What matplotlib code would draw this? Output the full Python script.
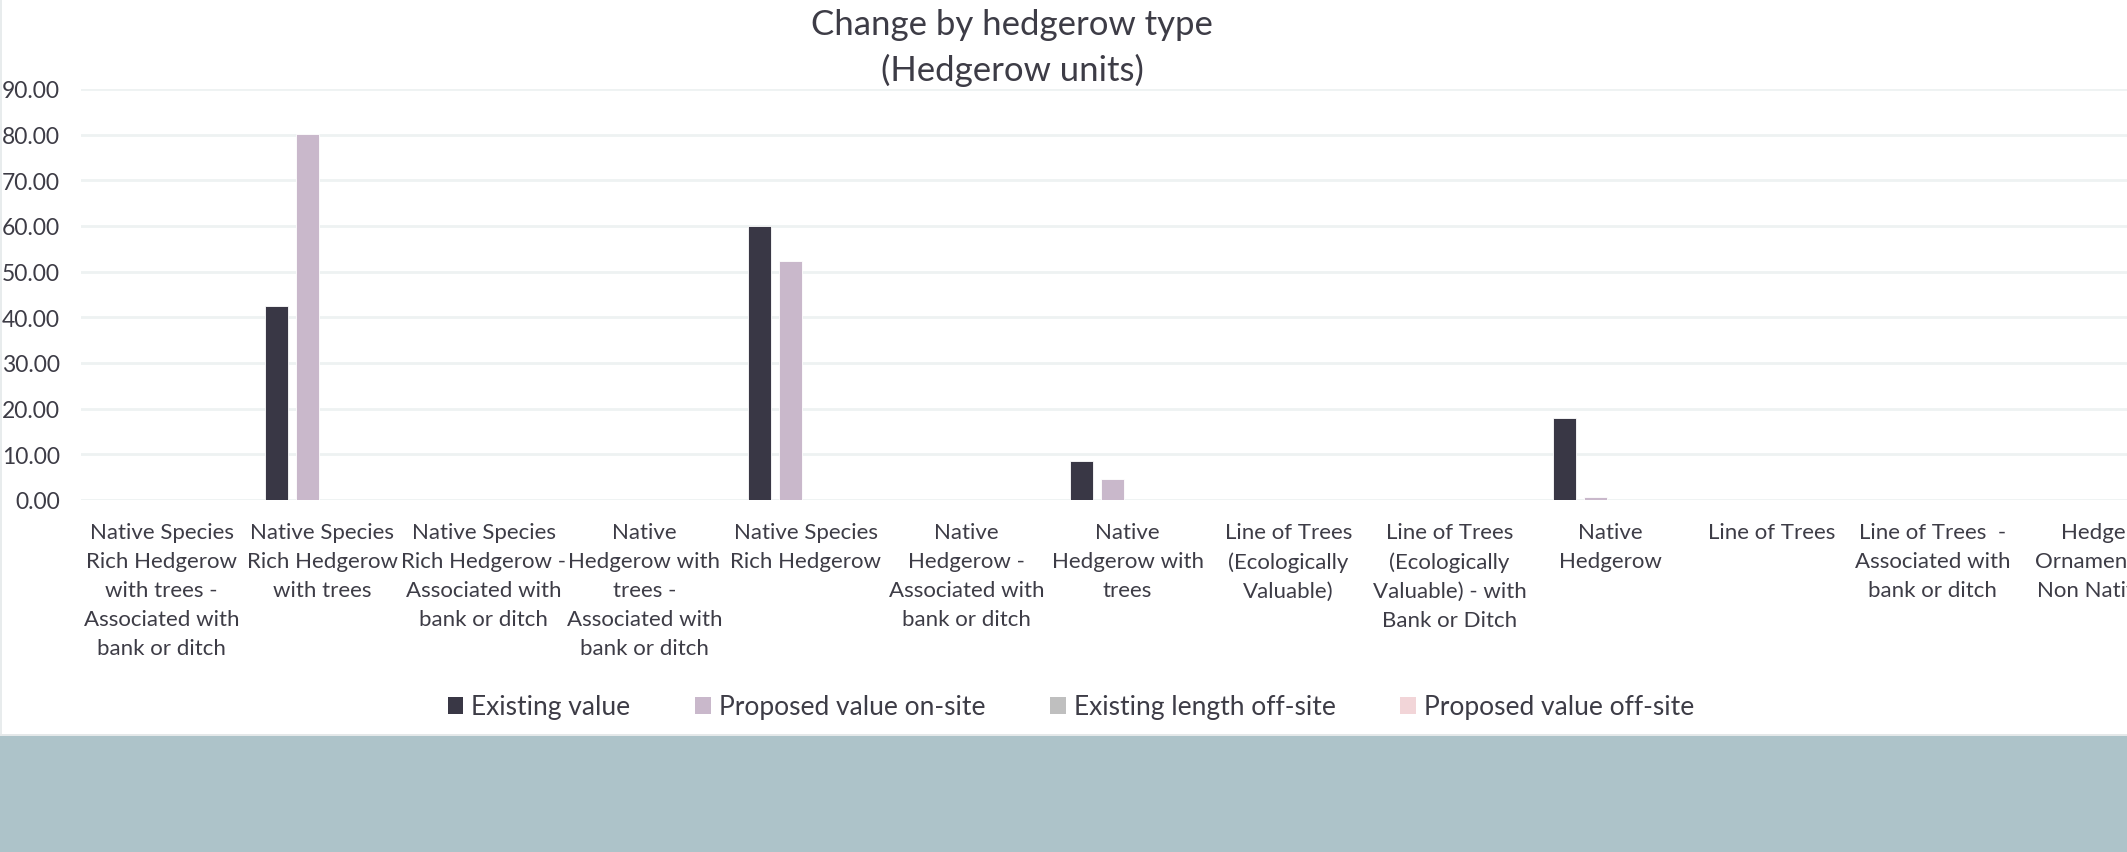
import matplotlib
matplotlib.use('Agg')
import matplotlib.pyplot as plt
from matplotlib.patches import Rectangle, Patch
import numpy as np

# 圖表資料
categories = [
    'Native Species\nRich Hedgerow\nwith trees -\nAssociated with\nbank or ditch',
    'Native Species\nRich Hedgerow\nwith trees',
    'Native Species\nRich Hedgerow -\nAssociated with\nbank or ditch',
    'Native\nHedgerow with\ntrees -\nAssociated with\nbank or ditch',
    'Native Species\nRich Hedgerow',
    'Native\nHedgerow -\nAssociated with\nbank or ditch',
    'Native\nHedgerow with\ntrees',
    'Line of Trees\n(Ecologically\nValuable)',
    'Line of Trees\n(Ecologically\nValuable) - with\nBank or Ditch',
    'Native\nHedgerow',
    'Line of Trees',
    'Line of Trees  -\nAssociated with\nbank or ditch',
    'Hedge\nOrnamental\nNon Native',
]
existing_value = [0, 42.4, 0, 0, 60.0, 0, 8.5, 0, 0, 17.9, 0, 0, 0]
proposed_onsite = [0, 80.1, 0, 0, 52.4, 0, 4.6, 0, 0, 0.6, 0, 0, 0]
existing_offsite = [0] * 13
proposed_offsite = [0] * 13

series_names = ['Existing value', 'Proposed value on-site',
                'Existing length off-site', 'Proposed value off-site']
series_colors = ['#393745', '#c9b8cb', '#bfbfbf', '#f2d5d8']
yticks = [0, 10, 20, 30, 40, 50, 60, 70, 80, 90]

plt.rcParams['font.family'] = ['Lato', 'DejaVu Sans']
text_color = '#3d3c46'

W, H = 2127, 853
fig = plt.figure(figsize=(W / 100, H / 100), dpi=100)
fig.patch.set_facecolor('white')

# 下方色帶
fig.patches.append(Rectangle((0, 0), 1, 1 - 735 / H, transform=fig.transFigure,
                             facecolor='#adc3c9', edgecolor='none', zorder=0))
fig.patches.append(Rectangle((0, 1 - 737 / H), 1, 2 / H, transform=fig.transFigure,
                             facecolor='#e4e8e9', edgecolor='none', zorder=0))
fig.patches.append(Rectangle((0, 1 - 735 / H), 1.5 / W, 735 / H, transform=fig.transFigure,
                             facecolor='#e8eced', edgecolor='none', zorder=0))

left = 81 / W
bottom = 1 - 501 / H
top = 1 - 90 / H
ax = fig.add_axes([left, bottom, 1 - left, top - bottom])
ax.set_facecolor('none')

cat_w = 161.0
x = np.arange(len(categories))
step = 31 / cat_w
bw = 23 / cat_w
all_series = [existing_value, proposed_onsite, existing_offsite, proposed_offsite]
for i, vals in enumerate(all_series):
    ax.bar(x + (i - 1.5) * step, vals, width=bw, color=series_colors[i],
           edgecolor='white', linewidth=0.6, zorder=3)

ax.set_xlim(-0.5, -0.5 + (W - 81) / cat_w)
ax.set_ylim(0, 90)
ax.set_yticks(yticks)
ax.set_yticklabels(['%.2f' % v for v in yticks])
ax.set_xticks(x)
ax.set_xticklabels(categories, linespacing=1.56, va='top')
ax.tick_params(axis='both', length=0, labelsize=16, colors=text_color)
ax.tick_params(axis='y', pad=15, labelsize=16.5)
ax.tick_params(axis='x', pad=16)
ax.grid(axis='y', color='#eef2f2', linewidth=2, zorder=0)
for s in ax.spines.values():
    s.set_visible(False)

fig.text(1012 / W, 1 - 25 / H, 'Change by hedgerow type', ha='center', va='center',
         fontsize=25, color=text_color)
fig.text(1012 / W, 1 - 70 / H, '(Hedgerow units)', ha='center', va='center',
         fontsize=25, color=text_color)

handles = [Patch(facecolor=c, edgecolor='none') for c in series_colors]
fig.legend(handles, series_names, loc='center', bbox_to_anchor=(1071 / W, 1 - 708 / H),
           ncol=4, frameon=False, fontsize=19, labelcolor=text_color,
           handlelength=0.6, handleheight=0.6, handletextpad=0.3, columnspacing=2.45)

fig.savefig('out.png', dpi=100)
